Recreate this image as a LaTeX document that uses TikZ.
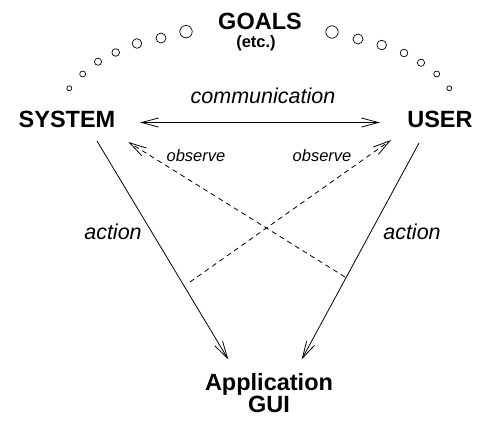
\documentclass[tikz,border=0pt]{standalone}
\usepackage{fontspec}
\setmainfont{Liberation Sans}
\usetikzlibrary{arrows.meta}
\begin{document}
\begin{tikzpicture}[x=1pt,y=-1pt,
  lbl/.style={font=\bfseries\fontsize{23.5}{24}\selectfont, anchor=base, inner sep=0},
  small/.style={font=\bfseries\fontsize{16.5}{17}\selectfont, anchor=base, inner sep=0},
  itl/.style={font=\itshape\fontsize{21.5}{22}\selectfont, anchor=base, inner sep=0},
  obs/.style={font=\itshape\fontsize{16.5}{17}\selectfont, anchor=base, inner sep=0},
  conn/.style={line width=0.8pt, -{Straight Barb[length=17pt,width=9pt,line width=0.8pt]}},
  dconn/.style={conn, dash pattern=on 5pt off 4pt},
  goaldot/.style={line width=0.7pt}]
\useasboundingbox (0,0) rectangle (477,422);

% texts
\node[lbl] (goals) at (260,30) {GOALS};
\node[small] (etc) at (256,47.5) {(etc.)};
\node[lbl] (system) at (67,128) {SYSTEM};
\node[lbl] (user) at (440,128) {USER};
\node[itl] (comm) at (263,104) {communication};
\node[obs] (obsl) at (196,162) {observe};
\node[obs] (obsr) at (322,162) {observe};
\node[itl] (actl) at (113,240) {action};
\node[itl] (actr) at (412,240) {action};
\node[font=\bfseries\fontsize{23.5}{22}\selectfont, align=center, inner sep=0] (app) at (269,393) {Application\\GUI};

% connector end points
\coordinate (commL) at (140,122.5);
\coordinate (commR) at (380,122.5);
\coordinate (actLs) at (97,141);
\coordinate (actLe) at (228.3,359.5);
\coordinate (actRs) at (419,143);
\coordinate (actRe) at (301.7,359.5);
\coordinate (obsLs) at (345,277);
\coordinate (obsLe) at (128.3,142);
\coordinate (obsRs) at (190,282);
\coordinate (obsRe) at (391,140);

% connectors
\draw[conn, {Straight Barb[length=17pt,width=9pt,line width=0.8pt]}-{Straight Barb[length=17pt,width=9pt,line width=0.8pt]}] (commL) -- (commR);
\draw[conn] (actLs) -- (actLe);
\draw[conn] (actRs) -- (actRe);
\draw[dconn] (obsLs) -- (obsLe);
\draw[dconn] (obsRs) -- (obsRe);

% goal dots
\foreach \x/\y/\r in {69.3/88.3/2.5, 82.7/74/3, 98/61.7/3.6, 115.7/52.5/3.8, 137/43.5/4.8, 161/38/5, 186/31.7/6.2,
                      332/32/6.2, 358/39/5, 381.7/45/4.8, 404/53/3.8, 421/62.7/3.6, 436.7/74/3, 449.3/88.3/2.5}
  \draw[goaldot] (\x,\y) circle[radius=\r pt];
\end{tikzpicture}
\end{document}
